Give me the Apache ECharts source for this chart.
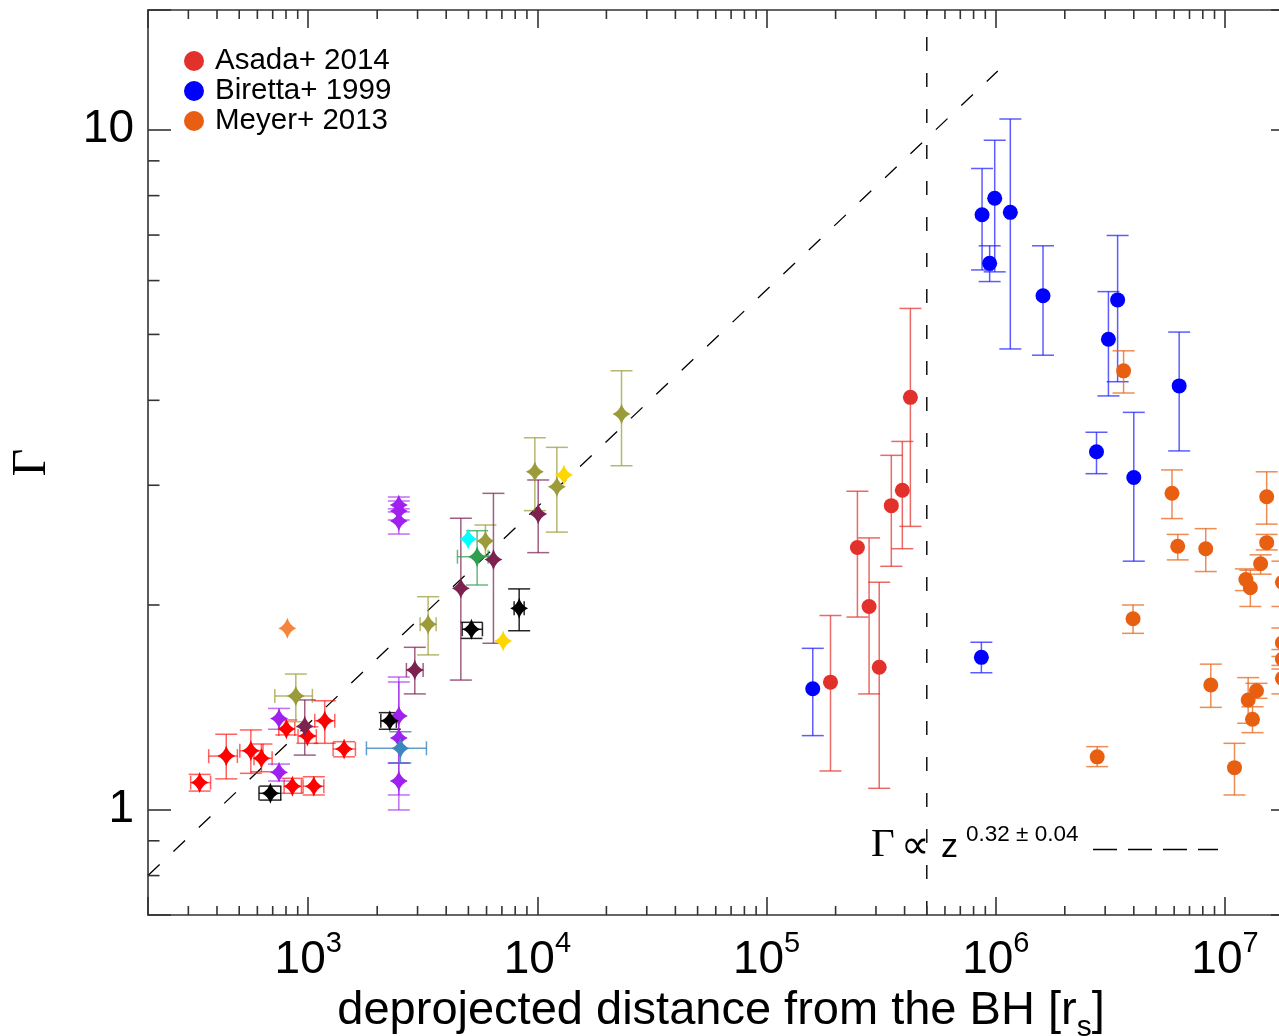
<!DOCTYPE html>
<html>
<head>
<meta charset="utf-8">
<script src="https://cdn.jsdelivr.net/npm/echarts@6.0.0/dist/echarts.min.js"></script>
<style>
html,body{margin:0;padding:0;background:#fff;overflow:hidden;width:1279px;height:1036px}
#chart{width:1320px;height:1036px}
</style>
</head>
<body>
<div id="chart"></div>
<script>
// ---------- values ----------
// circles: [z, Gamma, GammaLow, GammaHigh]
const asada2014 = [
  [1.90e5, 1.54, 1.14, 1.93],
  [2.49e5, 2.43, 1.92, 2.94],
  [2.80e5, 1.99, 1.48, 2.51],
  [3.10e5, 1.62, 1.075, 2.16],
  [3.50e5, 2.80, 2.28, 3.32],
  [3.91e5, 2.95, 2.42, 3.48],
  [4.24e5, 4.04, 2.61, 5.46]
];
const biretta1999 = [
  [1.59e5, 1.506, 1.285, 1.727],
  [8.65e5, 1.675, 1.59, 1.763],
  [8.71e5, 7.50, 6.22, 8.77],
  [9.89e5, 7.93, 6.18, 9.65],
  [9.40e5, 6.36, 5.98, 6.75],
  [1.157e6, 7.56, 4.76, 10.37],
  [1.607e6, 5.70, 4.66, 6.75],
  [3.10e6, 4.92, 4.06, 5.78],
  [3.40e6, 5.62, 4.26, 6.99],
  [6.31e6, 4.20, 3.37, 5.04],
  [2.75e6, 3.36, 3.12, 3.59],
  [4.00e6, 3.08, 2.32, 3.84]
];
const meyer2013 = [
  [3.61e6, 4.42, 4.10, 4.73],
  [5.87e6, 2.92, 2.68, 3.16],
  [6.22e6, 2.44, 2.33, 2.54],
  [8.24e6, 2.42, 2.24, 2.59],
  [3.97e6, 1.909, 1.817, 2.00],
  [1.52e7, 2.886, 2.63, 3.14],
  [1.52e7, 2.47, 2.41, 2.54],
  [1.43e7, 2.30, 2.22, 2.37],
  [1.233e7, 2.18, 2.10, 2.26],
  [1.29e7, 2.12, 1.99, 2.25],
  [1.78e7, 2.16, 1.99, 2.32],
  [1.78e7, 1.76, 1.68, 1.85],
  [1.78e7, 1.666, 1.61, 1.72],
  [1.78e7, 1.56, 1.48, 1.63],
  [8.67e6, 1.525, 1.414, 1.637],
  [1.262e7, 1.450, 1.34, 1.564],
  [1.372e7, 1.496, 1.458, 1.534],
  [1.318e7, 1.358, 1.298, 1.417],
  [1.10e7, 1.153, 1.051, 1.252],
  [2.77e6, 1.196, 1.157, 1.238]
];
// stars: [z, zLow, zHigh, Gamma, GammaLow, GammaHigh]  or [z, Gamma] without errors
const starsRed = [
  [336, 307, 375, 1.096, 1.065, 1.127],
  [439, 368, 491, 1.199, 1.110, 1.291],
  [562, 503, 635, 1.221, 1.131, 1.310],
  [625, 580, 696, 1.190, 1.137, 1.249],
  [803, 744, 874, 1.314, 1.288, 1.355],
  [853, 785, 934, 1.083, 1.057, 1.112],
  [992, 903, 1085, 1.283, 1.252, 1.324],
  [1058, 950, 1170, 1.083, 1.051, 1.118],
  [1181, 1068, 1306, 1.351, 1.252, 1.446],
  [1434, 1284, 1607, 1.228, 1.196, 1.259]
];
const starsPurple = [
  [746, 746, 746, 1.362, 1.313, 1.409],
  [746, 746, 746, 1.135, 1.102, 1.167],
  [2485, 2485, 2485, 2.805, 2.741, 2.883],
  [2485, 2485, 2485, 2.750, 2.667, 2.844],
  [2485, 2485, 2485, 2.658, 2.543, 2.770],
  [2485, 2485, 2485, 1.373, 1.171, 1.567],
  [2485, 2485, 2485, 1.275, 0.999, 1.541],
  [2485, 2485, 2485, 1.102, 1.051, 1.171]
];
const starsBlack = [
  [684, 610, 759, 1.057, 1.033, 1.083],
  [2270, 2074, 2425, 1.351, 1.313, 1.389],
  [5155, 4695, 5756, 1.842, 1.786, 1.886],
  [8326, 7916, 8754, 1.978, 1.833, 2.112]
];
const starsOlive = [
  [883, 715, 1043, 1.470, 1.347, 1.583],
  [3336, 3078, 3615, 1.874, 1.689, 2.057],
  [5933, 5933, 5933, 2.484, 2.36, 2.622],
  [9748, 9748, 9748, 3.141, 2.753, 3.524],
  [12160, 12160, 12160, 2.985, 2.56, 3.411],
  [23280, 23280, 23280, 3.818, 3.205, 4.421]
];
const starsMaroon = [
  [966, 966, 966, 1.327, 1.203, 1.450],
  [2918, 2682, 3172, 1.605, 1.480, 1.733],
  [4634, 4634, 4634, 2.116, 1.551, 2.683],
  [6430, 6430, 6430, 2.334, 1.757, 2.919],
  [10080, 10080, 10080, 2.722, 2.388, 3.054]
];
const starsGreen = [[5458, 4478, 6096, 2.355, 2.14, 2.572]];
const starsSteel = [[2525, 1795, 3280, 1.231, 1.171, 1.302]];
const starsCyan = [[4987, 2.50]];
const starsGold = [[7088, 1.77], [13050, 3.105]];
const starsOrange = [[811, 1.849]];

// dashed guide lines: [z, Gamma]
const fitLine = [[200, 0.80], [1.02e6, 12.2]];
const boundaryLine = [[5e5, 0.7], [5e5, 15]];

// axes
const xRange = [200, 2e7];
const yRange = [0.7, 15];
const xMinorTicks = [300,400,500,600,700,800,900,
  2e3,3e3,4e3,5e3,6e3,7e3,8e3,9e3,
  2e4,3e4,4e4,5e4,6e4,7e4,8e4,9e4,
  2e5,3e5,4e5,5e5,6e5,7e5,8e5,9e5,
  2e6,3e6,4e6,5e6,6e6,7e6,8e6,9e6];
const yMinorTicks = [0.8, 0.9, 2, 3, 4, 5, 6, 7, 8, 9];

// ---------- drawing ----------
const FONT = '"Liberation Sans", Arial, Helvetica, sans-serif';
const AX = '#333';
const STAR = 'path://M0,-10 Q2.5,-2.5 10,0 Q2.5,2.5 0,10 Q-2.5,2.5 -10,0 Q-2.5,-2.5 0,-10 Z';

function circleRows(rows) { return rows.map(r => [r[0], r[1], r[0], r[0], r[2], r[3]]); }
function starRows(rows) {
  return rows.map(r => r.length === 2 ? [r[0], r[1], r[0], r[0], r[1], r[1]] : [r[0], r[3], r[1], r[2], r[4], r[5]]);
}
function seg(x1, y1, x2, y2, st) { return {type: 'line', shape: {x1, y1, x2, y2}, style: st}; }
function errRender(color) {
  return function (params, api) {
    const z = api.value(0), g = api.value(1), zl = api.value(2), zh = api.value(3), gl = api.value(4), gh = api.value(5);
    const st = {stroke: color, lineWidth: 1.5, fill: null};
    const ch = [];
    const CV = 11, CH = 7;
    if (gl !== gh) {
      const a = api.coord([z, gl]), b = api.coord([z, gh]);
      ch.push(seg(a[0], a[1], b[0], b[1], st));
      ch.push(seg(a[0] - CV, a[1], a[0] + CV, a[1], st));
      ch.push(seg(b[0] - CV, b[1], b[0] + CV, b[1], st));
    }
    if (zl !== zh) {
      const a = api.coord([zl, g]), b = api.coord([zh, g]);
      ch.push(seg(a[0], a[1], b[0], b[1], st));
      ch.push(seg(a[0], a[1] - CH, a[0], a[1] + CH, st));
      ch.push(seg(b[0], b[1] - CH, b[0], b[1] + CH, st));
    }
    return {type: 'group', children: ch};
  };
}
function errSeries(rows, color) {
  return {
    type: 'custom', silent: true, z: 3,
    dimensions: ['z', 'g', 'zl', 'zh', 'gl', 'gh'],
    encode: {x: 0, y: 1},
    data: rows, renderItem: errRender(color)
  };
}
function markSeries(name, rows, color, symbol, size) {
  return {
    type: 'scatter', name: name, z: 4, silent: true,
    symbol: symbol, symbolSize: size,
    itemStyle: {color: color, opacity: 1},
    data: rows.map(r => [r[0], r[1]])
  };
}

const groups = [
  {name: 'Asada+ 2014', rows: circleRows(asada2014), color: '#e2302b', bar: 'rgba(226,48,43,0.72)', sym: 'circle', size: 15},
  {name: 'Biretta+ 1999', rows: circleRows(biretta1999), color: '#0000ff', bar: 'rgba(30,30,255,0.72)', sym: 'circle', size: 15},
  {name: 'Meyer+ 2013', rows: circleRows(meyer2013), color: '#e85f12', bar: 'rgba(232,96,18,0.72)', sym: 'circle', size: 15},
  {name: 'red', rows: starRows(starsRed), color: '#ff0000', bar: 'rgba(255,0,0,0.62)', sym: STAR, size: [18, 21]},
  {name: 'purple', rows: starRows(starsPurple), color: '#a020f0', bar: 'rgba(160,32,240,0.65)', sym: STAR, size: [18, 21]},
  {name: 'black', rows: starRows(starsBlack), color: '#000000', bar: 'rgba(0,0,0,0.85)', sym: STAR, size: [18, 21]},
  {name: 'olive', rows: starRows(starsOlive), color: '#9b9b3a', bar: 'rgba(155,155,58,0.72)', sym: STAR, size: [18, 21]},
  {name: 'maroon', rows: starRows(starsMaroon), color: '#7d2150', bar: 'rgba(125,33,80,0.72)', sym: STAR, size: [18, 21]},
  {name: 'green', rows: starRows(starsGreen), color: '#2e9e4f', bar: 'rgba(46,158,79,0.72)', sym: STAR, size: [18, 21]},
  {name: 'steel', rows: starRows(starsSteel), color: '#3a87c0', bar: 'rgba(58,135,192,0.8)', sym: STAR, size: [18, 21]},
  {name: 'cyan', rows: starRows(starsCyan), color: '#00ffff', bar: '#00ffff', sym: STAR, size: [18, 21]},
  {name: 'gold', rows: starRows(starsGold), color: '#ffd700', bar: '#ffd700', sym: STAR, size: [18, 21]},
  {name: 'orange', rows: starRows(starsOrange), color: '#f5853c', bar: '#f5853c', sym: STAR, size: [18, 21]}
];

function minorX(params, api) {
  const cs = params.coordSys;
  const px = api.coord([api.value(0), 1])[0];
  const st = {stroke: AX, lineWidth: 1.6};
  const b = cs.y + cs.height, t = cs.y;
  return {type: 'group', children: [seg(px, b, px, b - 9, st), seg(px, t, px, t + 9, st)]};
}
function minorY(params, api) {
  const cs = params.coordSys;
  const py = api.coord([1000, api.value(1)])[1];
  const st = {stroke: AX, lineWidth: 1.6};
  const l = cs.x, r = cs.x + cs.width;
  return {type: 'group', children: [seg(l, py, l + 11.5, py, st), seg(r, py, r - 11.5, py, st)]};
}

function isPow10(v) { const l = Math.log10(v); return Math.abs(l - Math.round(l)) < 1e-6; }

const series = [
  {type: 'line', data: fitLine, symbol: 'none', silent: true, z: 1,
   lineStyle: {color: '#000', width: 1.3, type: [16, 19]}},
  {type: 'line', data: boundaryLine, symbol: 'none', silent: true, z: 1,
   lineStyle: {color: '#000', width: 1.4, type: [14, 22]}},
  {type: 'custom', silent: true, z: 6, data: xMinorTicks.map(v => [v, 1]), encode: {x: 0, y: 1}, renderItem: minorX},
  {type: 'custom', silent: true, z: 6, data: yMinorTicks.map(v => [1000, v]), encode: {x: 0, y: 1}, renderItem: minorY}
];
groups.forEach(gp => {
  series.push(errSeries(gp.rows, gp.bar));
  series.push(markSeries(gp.name, gp.rows, gp.color, gp.sym, gp.size));
});

const axisLineStyle = {color: AX, width: 1.6};
const option = {
  animation: false,
  backgroundColor: '#fff',
  grid: {left: 148, top: 10, width: 1146, height: 905, containLabel: false, outerBoundsMode: 'none'},
  legend: {
    data: [{name: 'Asada+ 2014', icon: 'circle'}, {name: 'Biretta+ 1999', icon: 'circle'}, {name: 'Meyer+ 2013', icon: 'circle'}],
    orient: 'vertical', left: 179, top: 41, itemWidth: 32, itemHeight: 20, itemGap: 0,
    selectedMode: false,
    textStyle: {fontSize: 29.5, fontFamily: FONT, color: '#000'}
  },
  xAxis: [
    {type: 'log', logBase: 10, min: xRange[0], max: xRange[1], position: 'bottom',
     axisLine: {show: true, onZero: false, lineStyle: axisLineStyle},
     axisTick: {show: true, inside: true, length: 18, lineStyle: axisLineStyle},
     splitLine: {show: false},
     axisLabel: {margin: 22, color: '#000', fontFamily: FONT,
       formatter: v => isPow10(v) ? '{b|10}{s|' + Math.round(Math.log10(v)) + '}' : '',
       rich: {
         b: {fontSize: 46, lineHeight: 46, fontFamily: FONT, color: '#000'},
         s: {fontSize: 29, lineHeight: 29, fontFamily: FONT, color: '#000', padding: [0, 0, 33, 0]}
       }},
     name: '{t|deprojected distance from the BH [r}{u|s}{t|]}',
     nameLocation: 'middle', nameGap: 73, nameMoveOverlap: false,
     nameTextStyle: {rich: {
       t: {fontSize: 47, lineHeight: 47, fontFamily: FONT, color: '#000'},
       u: {fontSize: 30, lineHeight: 30, fontFamily: FONT, color: '#000', padding: [32, 0, 0, 0]}
     }}},
    {type: 'log', logBase: 10, min: xRange[0], max: xRange[1], position: 'top',
     axisLine: {show: true, onZero: false, lineStyle: axisLineStyle},
     axisTick: {show: true, inside: true, length: 18, lineStyle: axisLineStyle},
     axisLabel: {show: false}, splitLine: {show: false}}
  ],
  yAxis: [
    {type: 'log', logBase: 10, min: yRange[0], max: yRange[1], position: 'left',
     axisLine: {show: true, onZero: false, lineStyle: axisLineStyle},
     axisTick: {show: true, inside: true, length: 23, lineStyle: axisLineStyle},
     splitLine: {show: false},
     axisLabel: {margin: 14, fontSize: 46, fontFamily: FONT, color: '#000',
       formatter: v => isPow10(v) ? String(Math.round(v)) : ''},
     name: 'Γ', nameLocation: 'middle', nameRotate: 90, nameGap: 92, nameMoveOverlap: false,
     nameTextStyle: {fontFamily: '"Liberation Serif", "Times New Roman", serif', fontSize: 48, color: '#000'}},
    {type: 'log', logBase: 10, min: yRange[0], max: yRange[1], position: 'right',
     axisLine: {show: true, onZero: false, lineStyle: axisLineStyle},
     axisTick: {show: true, inside: true, length: 23, lineStyle: axisLineStyle},
     axisLabel: {show: false}, splitLine: {show: false}}
  ],
  graphic: [
    {type: 'text', style: {text: 'Γ', x: 871, y: 845.5, font: '41px "Liberation Serif", serif', fill: '#000', verticalAlign: 'middle'}},
    {type: 'text', style: {text: '∝', x: 901, y: 848, font: '40px "DejaVu Sans", sans-serif', fill: '#000', verticalAlign: 'middle'}},
    {type: 'text', style: {text: 'z', x: 941, y: 847.5, font: '34px "Liberation Sans", sans-serif', fill: '#000', verticalAlign: 'middle'}},
    {type: 'text', style: {text: '0.32 ± 0.04', x: 966, y: 835, font: '22.5px "Liberation Sans", sans-serif', fill: '#000', verticalAlign: 'middle'}},
    {type: 'line', shape: {x1: 1093, y1: 849.5, x2: 1218, y2: 849.5}, style: {stroke: '#000', lineWidth: 1.3, lineDash: [24, 11]}}
  ],
  series: series
};

const chart = echarts.init(document.getElementById('chart'), null, {renderer: 'canvas'});
chart.setOption(option);
</script>
</body>
</html>
